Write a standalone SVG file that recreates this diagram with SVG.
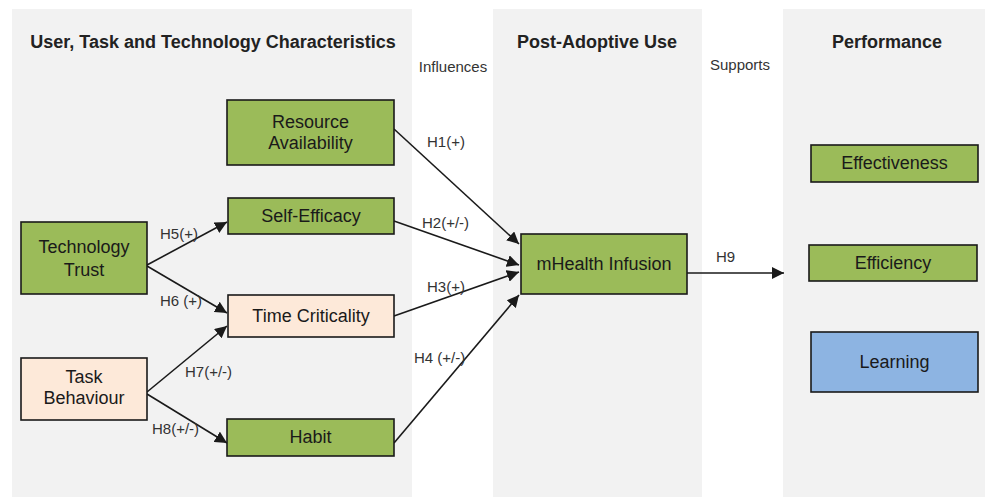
<svg xmlns="http://www.w3.org/2000/svg" width="987" height="497" viewBox="0 0 987 497">
  <style>
    .panel { fill: #f2f2f2; }
    .head { font-family: "Liberation Sans", Arial, sans-serif; font-size: 18px; font-weight: bold; fill: #222; text-anchor: middle; }
    .node rect { stroke: #1a1a1a; stroke-width: 1.6; }
    .green rect { fill: #9bbb59; }
    .peach rect { fill: #fde9d9; }
    .blue rect { fill: #8db4e2; }
    .node text { font-family: "Liberation Sans", Arial, sans-serif; font-size: 18px; fill: #1a1a1a; text-anchor: middle; }
    .lbl { font-family: "Liberation Sans", Arial, sans-serif; font-size: 15px; fill: #333; }
    .edge { stroke: #1a1a1a; stroke-width: 1.6; fill: none; marker-end: url(#arrow); }
  </style>
  <defs>
    <marker id="arrow" viewBox="0 0 10 10" refX="10" refY="5" markerWidth="7.5" markerHeight="7.5" markerUnits="strokeWidth" orient="auto">
      <path d="M0,0 L10,5 L0,10 z" fill="#1a1a1a"/>
    </marker>
  </defs>

  <rect width="987" height="497" fill="#ffffff"/>

  <!-- column backgrounds -->
  <rect class="panel" x="12" y="9" width="400" height="488"/>
  <rect class="panel" x="493" y="9" width="209" height="488"/>
  <rect class="panel" x="783" y="9" width="202" height="488"/>

  <!-- column headings -->
  <text class="head" x="213" y="48">User, Task and Technology Characteristics</text>
  <text class="head" x="597" y="48">Post-Adoptive Use</text>
  <text class="head" x="887" y="48">Performance</text>
  <text class="lbl" x="453" y="72" text-anchor="middle" font-size="16">Influences</text>
  <text class="lbl" x="740" y="70" text-anchor="middle" font-size="16">Supports</text>

  <!-- connectors -->
  <g id="connectors">
    <line class="edge" x1="147" y1="265" x2="227" y2="222"/>
    <line class="edge" x1="147" y1="266" x2="227" y2="313"/>
    <line class="edge" x1="147" y1="392" x2="227" y2="326"/>
    <line class="edge" x1="147" y1="394" x2="227" y2="443"/>
    <line class="edge" x1="394" y1="129" x2="519" y2="244"/>
    <line class="edge" x1="394" y1="221" x2="519" y2="265"/>
    <line class="edge" x1="394" y1="316" x2="519" y2="272"/>
    <line class="edge" x1="394" y1="443" x2="519" y2="295"/>
    <line class="edge" x1="687" y1="273" x2="784" y2="273"/>
    <text class="lbl" x="427" y="147">H1(+)</text>
    <text class="lbl" x="422" y="228">H2(+/-)</text>
    <text class="lbl" x="427" y="292">H3(+)</text>
    <text class="lbl" x="414" y="363">H4 (+/-)</text>
    <text class="lbl" x="160" y="239">H5(+)</text>
    <text class="lbl" x="160" y="306">H6 (+)</text>
    <text class="lbl" x="185" y="377">H7(+/-)</text>
    <text class="lbl" x="152" y="434">H8(+/-)</text>
    <text class="lbl" x="716" y="262">H9</text>
  </g>

  <!-- nodes -->
  <g id="resource-availability" class="node green">
    <rect x="227" y="100" width="167" height="65"/>
    <text x="310.5" y="128">Resource</text>
    <text x="310.5" y="149">Availability</text>
  </g>
  <g id="self-efficacy" class="node green">
    <rect x="228" y="198" width="166" height="36"/>
    <text x="311" y="222">Self-Efficacy</text>
  </g>
  <g id="technology-trust" class="node green">
    <rect x="21" y="222" width="126" height="72"/>
    <text x="84" y="253">Technology</text>
    <text x="84" y="276">Trust</text>
  </g>
  <g id="time-criticality" class="node peach">
    <rect x="228" y="295" width="166" height="42"/>
    <text x="311" y="322">Time Criticality</text>
  </g>
  <g id="task-behaviour" class="node peach">
    <rect x="21" y="358" width="126" height="62"/>
    <text x="84" y="383">Task</text>
    <text x="84" y="404">Behaviour</text>
  </g>
  <g id="habit" class="node green">
    <rect x="227" y="419" width="167" height="37"/>
    <text x="310.5" y="443">Habit</text>
  </g>
  <g id="mhealth-infusion" class="node green">
    <rect x="521" y="234" width="166" height="60"/>
    <text x="604" y="270">mHealth Infusion</text>
  </g>
  <g id="effectiveness" class="node green">
    <rect x="811" y="145" width="167" height="37"/>
    <text x="894.5" y="169">Effectiveness</text>
  </g>
  <g id="efficiency" class="node green">
    <rect x="809" y="245" width="168" height="36"/>
    <text x="893" y="269">Efficiency</text>
  </g>
  <g id="learning" class="node blue">
    <rect x="811" y="332" width="167" height="60"/>
    <text x="894.5" y="368">Learning</text>
  </g>
</svg>
